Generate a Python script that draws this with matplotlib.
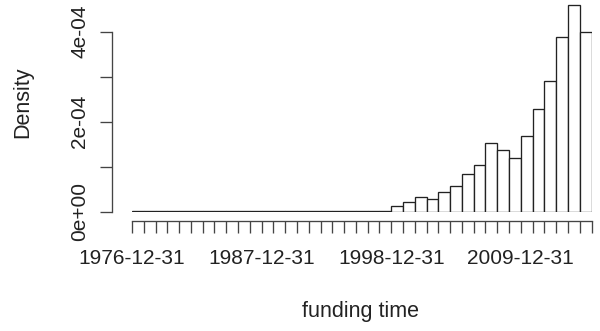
import matplotlib
matplotlib.use("Agg")
import matplotlib.pyplot as plt
import matplotlib.dates as mdates
import datetime as dt

plt.rcParams['font.family'] = ['Liberation Sans', 'DejaVu Sans']

# Yearly bin edges (R hist.Date, breaks="years")
edge_years = list(range(1976, 2016))
edges = [dt.date(y, 12, 31) for y in edge_years]

# Density per bin (per day)
density = [2e-7, 2e-7, 2e-7, 2e-7, 2e-7, 2e-7, 2e-7, 2e-7, 2e-7, 2e-7,
           2e-7, 2e-7, 2e-7, 2e-7, 2e-7, 2e-7, 2e-7, 2e-7, 2e-7, 2e-7,
           2e-7, 2e-7,
           1.2e-5, 2.1e-5, 3.2e-5, 2.8e-5, 4.4e-5, 5.6e-5, 8.4e-5, 1.04e-4,
           1.52e-4, 1.36e-4, 1.20e-4, 1.67e-4, 2.28e-4, 2.91e-4, 3.88e-4,
           4.58e-4, 3.99e-4]

xlabels_at = ["1976-12-31", "1987-12-31", "1998-12-31", "2009-12-31"]
ytick_vals = [0, 1e-4, 2e-4, 3e-4, 4e-4]
ytick_labels = ["0e+00", "", "2e-04", "", "4e-04"]

W, H = 600, 331
PT = 0.72  # points per pixel at dpi 100
fig = plt.figure(figsize=(W / 100, H / 100), dpi=100)

# axes region in pixels
x0, x1 = 132, 591.5
y_base, y_top = 211.5, 0.0
ax = fig.add_axes([x0 / W, 1 - y_base / H, (x1 - x0) / W, (y_base - y_top) / H])

en = mdates.date2num(edges)
lefts = en[:-1]
widths = [en[i + 1] - en[i] for i in range(len(en) - 1)]
ax.bar(lefts, density, width=widths, align='edge', facecolor='white',
       edgecolor='#222222', linewidth=0.95)

ax.set_xlim(en[0], en[-1])
ax.set_ylim(0, y_base / 45 * 1e-4)

for s in ['top', 'right']:
    ax.spines[s].set_visible(False)
ax.spines['left'].set_position(('outward', 20 * PT))
ax.spines['bottom'].set_position(('outward', 9.3 * PT))
ax.spines['left'].set_bounds(0, 4e-4)
ax.spines['bottom'].set_bounds(en[0], en[-1])
for s in ['left', 'bottom']:
    ax.spines[s].set_linewidth(0.95)
    ax.spines[s].set_color('#444444')

ax.set_xticks(en)
lab = []
for d in edges:
    s = d.strftime('%Y-%m-%d')
    lab.append(s if s in xlabels_at else "")
ax.set_xticklabels(lab, fontsize=15, color='#222222')
ax.set_yticks(ytick_vals)
ax.set_yticklabels(ytick_labels, fontsize=15, rotation=90, va='center',
                   color='#222222')
ax.tick_params(axis='both', direction='out', length=12 * PT, width=0.95,
               color='#444444')
ax.tick_params(axis='x', pad=16 * PT)
ax.tick_params(axis='y', pad=10.5 * PT)

fig.text(361 / W, 1 - 312 / H, "funding time", fontsize=15.5, ha='center',
         va='center', color='#222222')
fig.text(23 / W, 1 - 102 / H, "Density", fontsize=15.5, ha='center',
         va='center', rotation=90, color='#222222')

fig.savefig("out.png", dpi=100)
